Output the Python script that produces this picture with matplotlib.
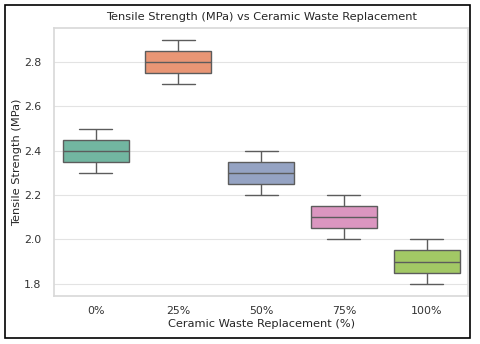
import matplotlib
matplotlib.use("Agg")
import matplotlib.pyplot as plt
import seaborn as sns
import pandas as pd
from matplotlib.patches import Rectangle

replacement = ["0%", "25%", "50%", "75%", "100%"]
tensile_0 = [2.3, 2.4, 2.5]
tensile_25 = [2.7, 2.8, 2.9]
tensile_50 = [2.2, 2.3, 2.4]
tensile_75 = [2.0, 2.1, 2.2]
tensile_100 = [1.8, 1.9, 2.0]

groups = [tensile_0, tensile_25, tensile_50, tensile_75, tensile_100]
rows = []
for lab, vals in zip(replacement, groups):
    for v in vals:
        rows.append({"Replacement": lab, "Tensile": v})
df = pd.DataFrame(rows)

sns.set_theme(style="whitegrid")
fig, ax = plt.subplots(figsize=(4.8, 3.44), dpi=100)
sns.boxplot(data=df, x="Replacement", y="Tensile", hue="Replacement",
            palette="Set2", order=replacement, legend=False, ax=ax,
            linewidth=1.0, linecolor="#5c5c5c")

ax.set_title("Tensile Strength (MPa) vs Ceramic Waste Replacement", fontsize=8.2)
ax.set_xlabel("Ceramic Waste Replacement (%)", fontsize=8.2, labelpad=2)
ax.set_ylabel("Tensile Strength (MPa)", fontsize=8.2, labelpad=1)
ax.tick_params(labelsize=7.9, colors="#333333")
ax.tick_params(axis="x", pad=1.5)
ax.set_yticks([1.8, 2.0, 2.2, 2.4, 2.6, 2.8])
ax.grid(False)
ax.yaxis.grid(True, color="#e3e3e3", linewidth=0.8)
for s in ax.spines.values():
    s.set_edgecolor("#d9d9d9")

plt.subplots_adjust(left=0.113, right=0.975, top=0.919, bottom=0.14)
fig.patches.append(Rectangle((0.0104, 0.0174), 0.969, 0.968, transform=fig.transFigure,
                             fill=False, edgecolor="black", linewidth=1.2))
plt.savefig("out.png", dpi=100)
